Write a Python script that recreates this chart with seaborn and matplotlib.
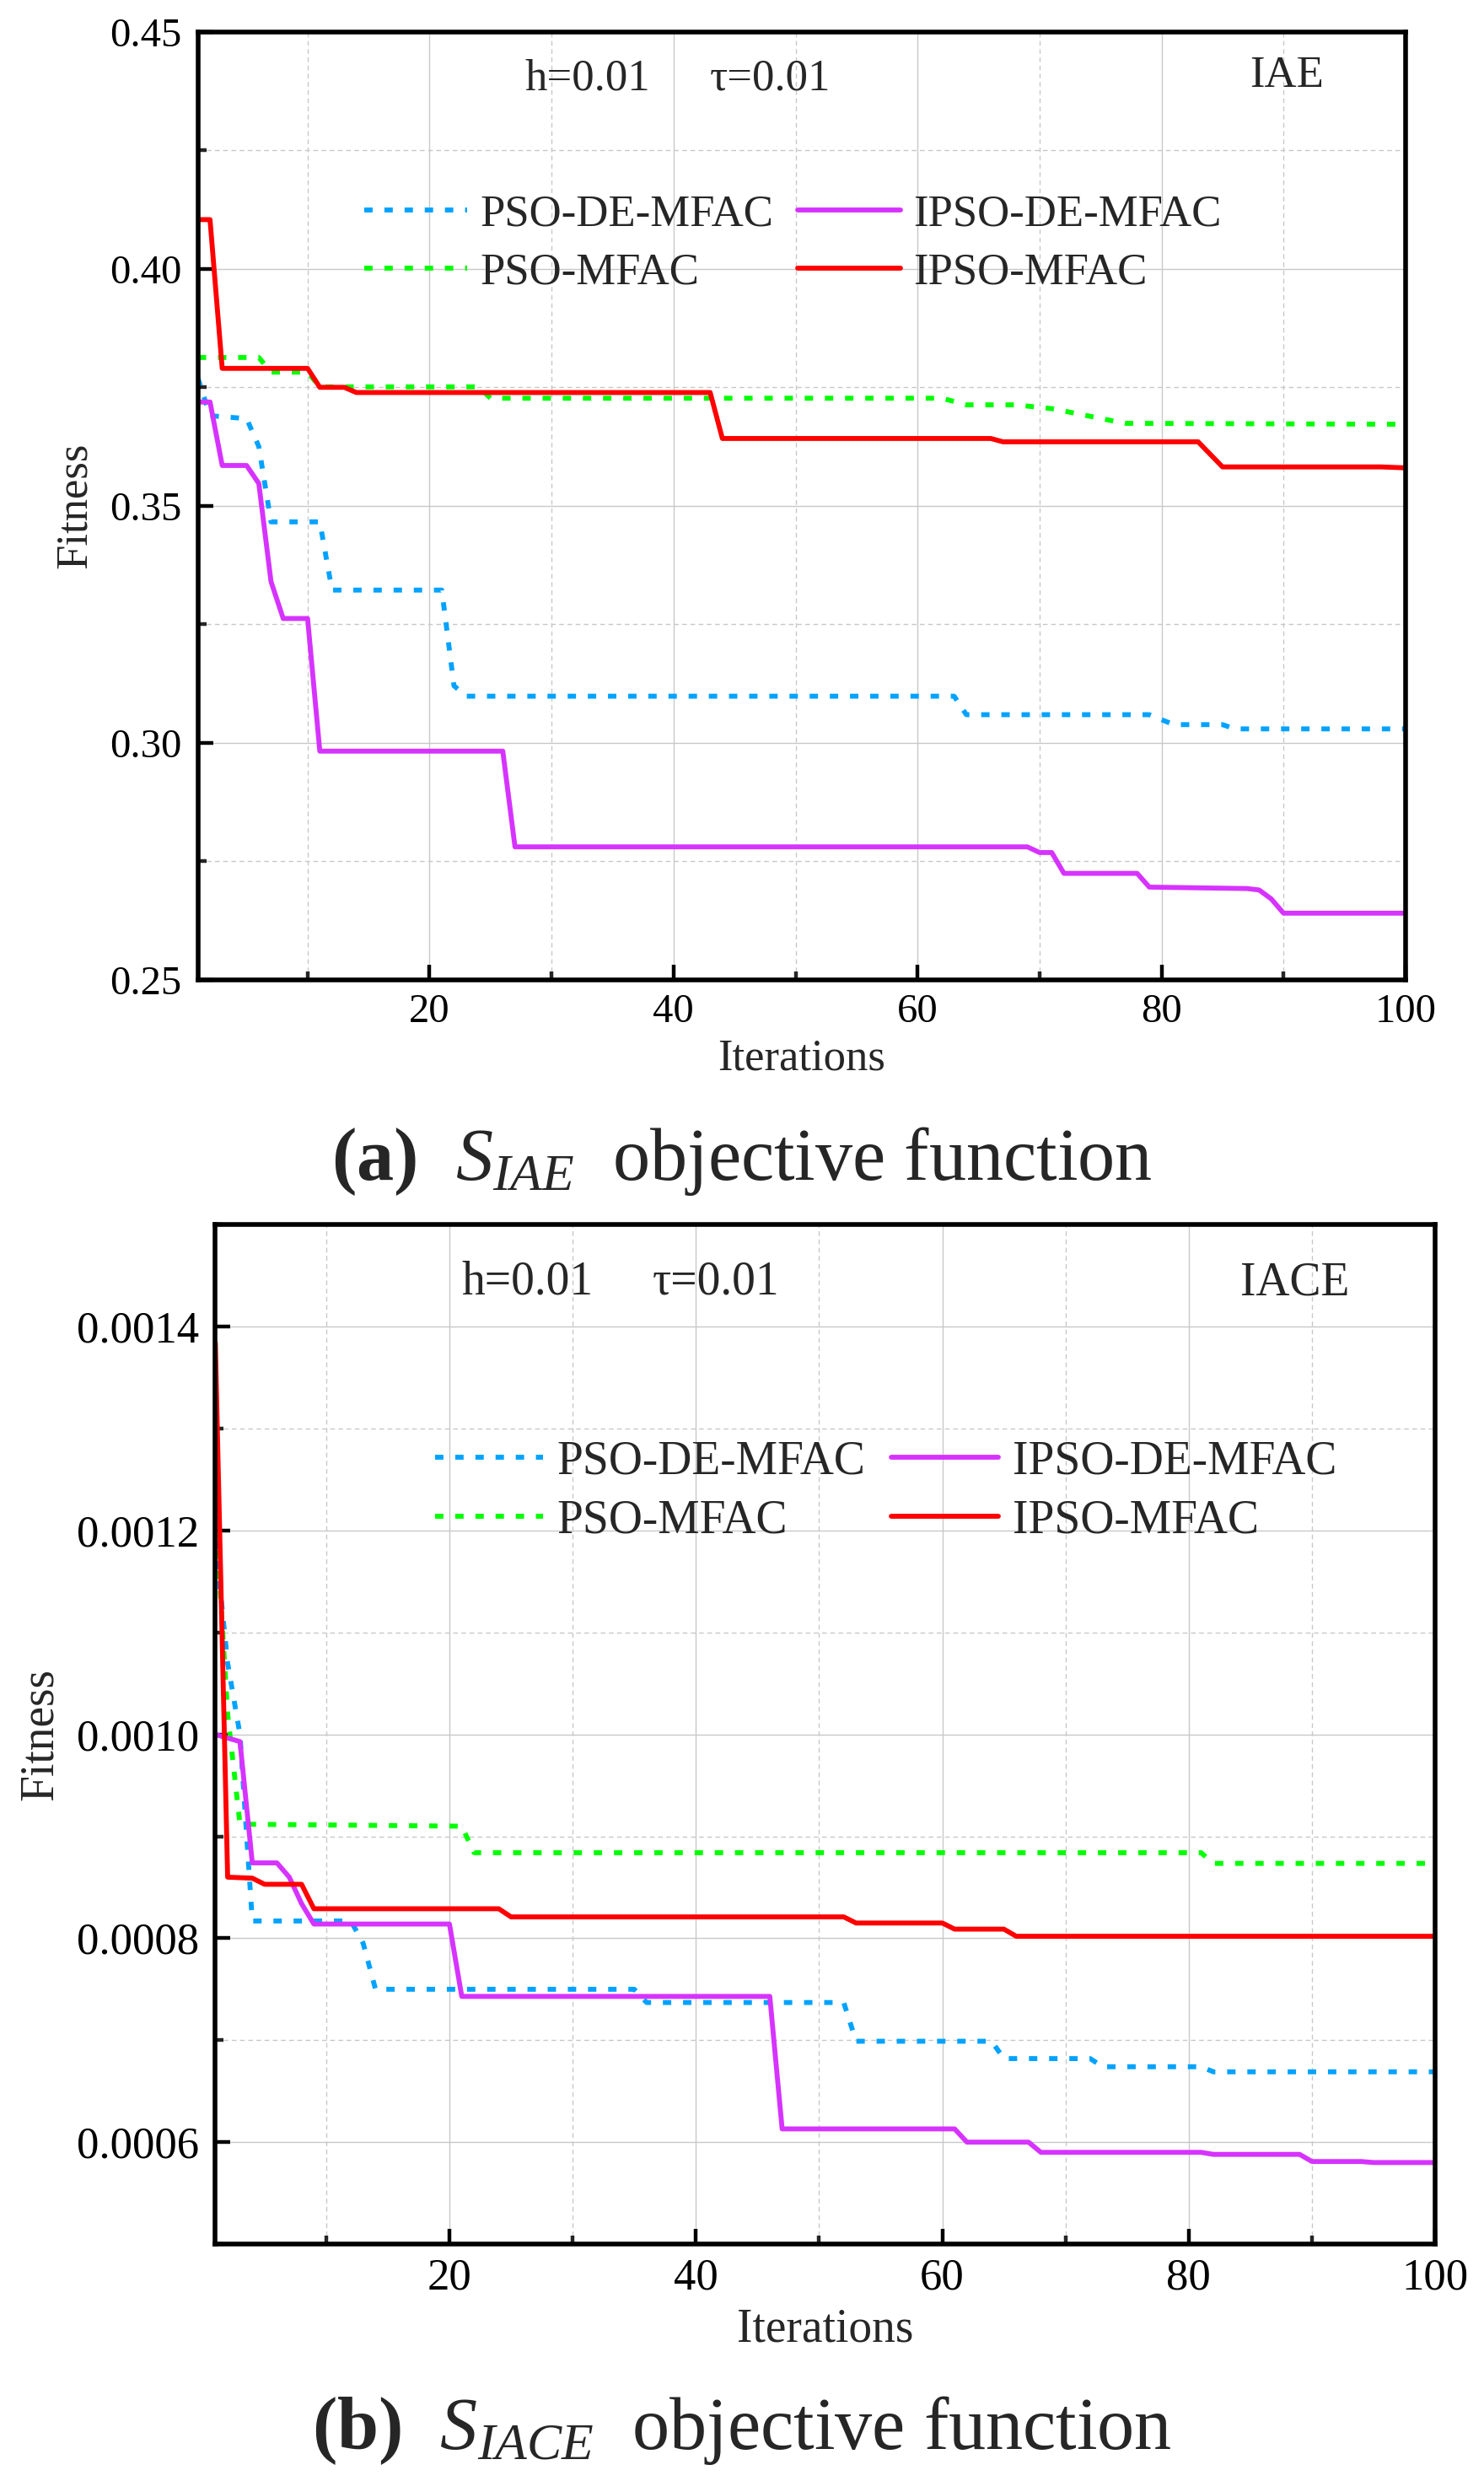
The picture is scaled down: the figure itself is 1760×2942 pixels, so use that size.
import numpy as np
import pandas as pd
import matplotlib
matplotlib.use("Agg")
import matplotlib.pyplot as plt
import seaborn as sns
from matplotlib.ticker import MultipleLocator, FormatStrFormatter

# 风格与字体
sns.set_theme(style="white")
plt.rcParams["font.family"] = ["Liberation Serif", "DejaVu Serif"]
plt.rcParams["mathtext.fontset"] = "custom"
plt.rcParams["mathtext.rm"] = "Liberation Serif"
plt.rcParams["mathtext.it"] = "Liberation Serif:italic"
plt.rcParams["mathtext.bf"] = "Liberation Serif:bold"

names = ["PSO-DE-MFAC", "PSO-MFAC", "IPSO-DE-MFAC", "IPSO-MFAC"]
colors = ["#00A2FF", "#00FF00", "#D633FF", "#FF0000"]
dotted = (0, (1.7, 2.4))
styles = [dotted, dotted, "-", "-"]

# (a) IAE 目标函数 —— 折线拐点 (迭代次数, 适应度)
iae_pso_de_x = [1, 2, 5, 6, 7, 11, 12, 21, 22, 23, 63, 64, 79, 81, 85, 86, 100]
iae_pso_de_y = [0.3770, 0.3690, 0.3684, 0.3625, 0.3466, 0.3466, 0.3322, 0.3322, 0.3120,
                0.3098, 0.3098, 0.3059, 0.3059, 0.3038, 0.3038, 0.3029, 0.3029]
iae_pso_x = [1, 6, 7, 10, 11, 24, 25, 62, 64, 68, 71, 72, 77, 100]
iae_pso_y = [0.3813, 0.3813, 0.3782, 0.3782, 0.3751, 0.3751, 0.3727, 0.3727, 0.3713,
             0.3713, 0.3705, 0.3700, 0.3674, 0.3672]
iae_ipso_de_x = [1, 2, 3, 5, 6, 7, 8, 10, 11, 26, 27, 69, 70, 71, 72, 78, 79, 87, 88, 89, 90, 100]
iae_ipso_de_y = [0.3719, 0.3719, 0.3585, 0.3585, 0.3547, 0.3340, 0.3262, 0.3262, 0.2982,
                 0.2982, 0.2780, 0.2780, 0.2768, 0.2768, 0.2724, 0.2724, 0.2695, 0.2692,
                 0.2689, 0.2670, 0.2640, 0.2640]
iae_ipso_x = [1, 2, 3, 10, 11, 13, 14, 43, 44, 66, 67, 83, 85, 98, 100]
iae_ipso_y = [0.4104, 0.4104, 0.3790, 0.3790, 0.3750, 0.3750, 0.3739, 0.3739, 0.3642,
              0.3642, 0.3635, 0.3635, 0.3582, 0.3582, 0.3580]

# (b) IACE 目标函数
iace_pso_de_x = [1, 2, 3, 4, 12, 13, 14, 35, 36, 52, 53, 64, 65, 72, 73, 81, 82, 100]
iace_pso_de_y = [0.00119, 0.00107, 0.00100, 0.000817, 0.000817, 0.000795, 0.000750,
                 0.000750, 0.000737, 0.000737, 0.000699, 0.000699, 0.000682, 0.000682,
                 0.000674, 0.000674, 0.000669, 0.000669]
iace_pso_x = [1, 2, 3, 21, 22, 81, 82, 100]
iace_pso_y = [0.00122, 0.00102, 0.000912, 0.000910, 0.000884, 0.000884, 0.0008735, 0.0008735]
iace_ipso_de_x = [1, 3, 4, 6, 7, 8, 9, 20, 21, 46, 47, 61, 62, 67, 68, 81, 82, 89, 90, 94, 95, 100]
iace_ipso_de_y = [0.00100, 0.000993, 0.000874, 0.000874, 0.000860, 0.000834, 0.000814,
                  0.000814, 0.000743, 0.000743, 0.000613, 0.000613, 0.000600, 0.000600,
                  0.000590, 0.000590, 0.000588, 0.000588, 0.000581, 0.000581, 0.000580,
                  0.000580]
iace_ipso_x = [1, 2, 4, 5, 8, 9, 24, 25, 52, 53, 60, 61, 65, 66, 100]
iace_ipso_y = [0.001384, 0.000860, 0.000859, 0.000853, 0.000853, 0.000829, 0.000829,
               0.000821, 0.000821, 0.000815, 0.000815, 0.000809, 0.000809, 0.000802,
               0.000802]

iae_series = [(iae_pso_de_x, iae_pso_de_y), (iae_pso_x, iae_pso_y),
              (iae_ipso_de_x, iae_ipso_de_y), (iae_ipso_x, iae_ipso_y)]
iace_series = [(iace_pso_de_x, iace_pso_de_y), (iace_pso_x, iace_pso_y),
               (iace_ipso_de_x, iace_ipso_de_y), (iace_ipso_x, iace_ipso_y)]


def draw_panel(ax, series, ylim, ymaj, ymin_step, yfmt, tag, fs_tick, fs_lab, fs_leg,
               leg_anchor, leg_space, h_pos, tau_pos, tag_pos, xlabpad):
    for (xs, ys), name, c, ls in zip(series, names, colors, styles):
        df = pd.DataFrame({"Iterations": xs, "Fitness": ys})
        sns.lineplot(data=df, x="Iterations", y="Fitness", ax=ax, color=c,
                     linewidth=4.2, linestyle=ls, label=name, sort=False, estimator=None)

    ax.set_xlim(1, 100)
    ax.set_ylim(*ylim)
    ax.xaxis.set_major_locator(MultipleLocator(20))
    ax.xaxis.set_minor_locator(MultipleLocator(10))
    ax.yaxis.set_major_locator(MultipleLocator(ymaj))
    ax.yaxis.set_minor_locator(MultipleLocator(ymin_step))
    ax.yaxis.set_major_formatter(FormatStrFormatter(yfmt))

    ax.grid(which="major", color="#c8c8c8", linewidth=1.0, linestyle="-")
    ax.grid(which="minor", color="#c8c8c8", linewidth=1.0, linestyle=(0, (4, 3)))
    ax.set_axisbelow(True)

    for sp in ax.spines.values():
        sp.set_linewidth(4)
        sp.set_color("black")
    ax.tick_params(which="major", direction="in", length=13, width=3.2, colors="black",
                   labelsize=fs_tick, top=False, right=False, bottom=True, left=True, pad=12)
    ax.tick_params(which="minor", direction="in", length=7, width=3.2,
                   top=False, right=False, bottom=True, left=True)
    ax.tick_params(axis="y", pad=14)

    ax.set_xlabel("Iterations", fontsize=fs_lab, labelpad=xlabpad)
    ax.set_ylabel("Fitness", fontsize=fs_lab, labelpad=12)

    ax.legend(ncol=2, loc="upper left", bbox_to_anchor=leg_anchor, frameon=False,
              fontsize=fs_leg, handlelength=2.3, handletextpad=0.3, columnspacing=0.55,
              labelspacing=leg_space, borderaxespad=0, borderpad=0)

    ax.text(h_pos[0], h_pos[1], "h=0.01", transform=ax.transAxes, fontsize=fs_lab,
            ha="left", va="center")
    ax.text(tau_pos[0], tau_pos[1], "τ=0.01", transform=ax.transAxes, fontsize=fs_lab,
            ha="left", va="center")
    ax.text(tag_pos[0], tag_pos[1], tag, transform=ax.transAxes, fontsize=fs_lab,
            ha="center", va="center")


fig = plt.figure(figsize=(17.6, 29.42), dpi=100)
ax1 = fig.add_axes([0.1333, 0.6052, 0.8138, 0.3819])
ax2 = fig.add_axes([0.1451, 0.0955, 0.8220, 0.4108])

draw_panel(ax1, iae_series, (0.25, 0.45), 0.05, 0.025, "%.2f", "IAE", 35, 38, 38,
           (0.138, 0.829), 0.4, (0.271, 0.9505), (0.424, 0.9505), (0.902, 0.954), 7)
draw_panel(ax2, iace_series, (0.0005, 0.0015), 0.0002, 0.0001, "%.4f", "IACE", 38, 40, 40,
           (0.180, 0.789), 0.33, (0.2016, 0.9435), (0.358, 0.9435), (0.885, 0.9425), 8)

fig.text(0.5, 1 - 1377 / 2942, r"$\mathbf{(a)}$  $S_{IAE}$  objective function",
         ha="center", va="center", fontsize=63.5)
fig.text(0.5, 1 - 2882 / 2942, r"$\mathbf{(b)}$  $S_{IACE}$  objective function",
         ha="center", va="center", fontsize=63.5)

fig.savefig("out.png", dpi=100, facecolor="white")
plt.close(fig)
